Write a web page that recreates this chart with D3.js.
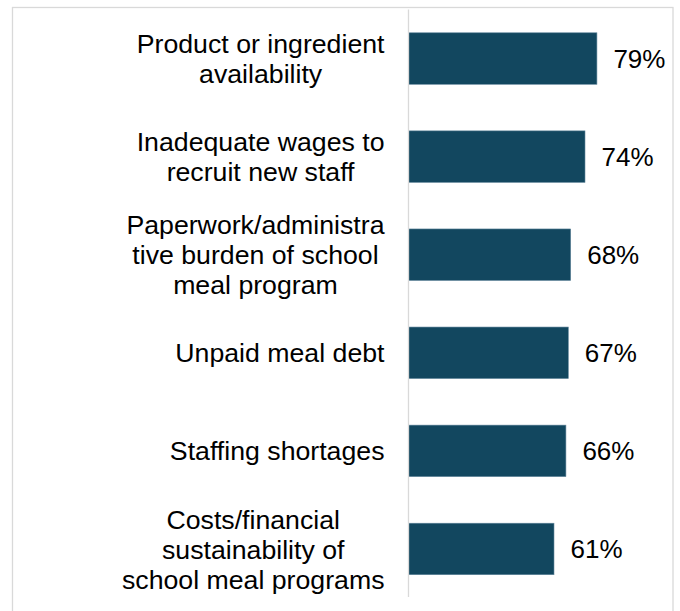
<!DOCTYPE html>
<html>
<head>
<meta charset="utf-8">
<script src="https://cdn.jsdelivr.net/npm/d3@7"></script>
<style>
  html, body { margin: 0; padding: 0; background: #ffffff; }
  svg { display: block; }
  text { font-family: "Liberation Sans", Arial, sans-serif; }
</style>
</head>
<body>
<svg id="chart" width="680" height="611"></svg>
<script>
// Data
const categories = [
  "Product or ingredient availability",
  "Inadequate wages to recruit new staff",
  "Paperwork/administrative burden of school meal program",
  "Unpaid meal debt",
  "Staffing shortages",
  "Costs/financial sustainability of school meal programs"
];
const categoryLines = [
  ["Product or ingredient", "availability"],
  ["Inadequate wages to", "recruit new staff"],
  ["Paperwork/administra", "tive burden of school", "meal program"],
  ["Unpaid meal debt"],
  ["Staffing shortages"],
  ["Costs/financial", "sustainability of", "school meal programs"]
];
const values = [79, 74, 68, 67, 66, 61];
const valueLabels = ["79%", "74%", "68%", "67%", "66%", "61%"];

const svg = d3.select("#chart");
const axisX = 408.5;

// Frame
svg.append("rect")
  .attr("x", 12.5).attr("y", 7.5)
  .attr("width", 660.5).attr("height", 620)
  .attr("fill", "none").attr("stroke", "#d9d9d9").attr("stroke-width", 1.3);

const y = d3.scaleBand()
  .domain(categories)
  .range([9.5, 598])
  .paddingInner(0.475)
  .paddingOuter(0.2375);

const x = d3.scaleLinear().domain([0, 100]).range([axisX, axisX + 238.5]);

// Bars
svg.append("g").selectAll("rect")
  .data(categories)
  .join("rect")
  .attr("x", x(0))
  .attr("y", d => y(d))
  .attr("width", (d, i) => x(values[i]) - x(0))
  .attr("height", y.bandwidth())
  .attr("fill", "#12475f")
  .attr("stroke", "#5f8499")
  .attr("stroke-width", 0.6);

// Axis line (category axis)
const yAxis = d3.axisLeft(y).tickSize(0).tickFormat("");
const ga = svg.append("g").attr("transform", `translate(${axisX},0)`).call(yAxis);
ga.select(".domain").attr("stroke", "#d9d9d9").attr("stroke-width", 1.3)
  .attr("d", `M0,9.5V597`);

// Value labels
svg.append("g").selectAll("text")
  .data(categories)
  .join("text")
  .attr("x", (d, i) => x(values[i]) + 16.5)
  .attr("y", d => y(d) + y.bandwidth() / 2)
  .attr("dy", "0.36em")
  .attr("font-size", 26)
  .attr("fill", "#000")
  .text((d, i) => valueLabels[i]);

// Category labels: lines centered within block, block right-aligned
const rightEdge = 384.5;
const lineH = 30;
categories.forEach((c, i) => {
  const lines = categoryLines[i];
  const g = svg.append("g");
  const texts = lines.map(l => g.append("text")
    .attr("font-size", 26.7).attr("fill", "#000")
    .attr("text-anchor", "middle").text(l));
  let maxW = 0;
  texts.forEach(t => { maxW = Math.max(maxW, t.node().getComputedTextLength()); });
  const cx = rightEdge - maxW / 2;
  const cy = y(c) + y.bandwidth() / 2;
  const n = lines.length;
  texts.forEach((t, k) => {
    t.attr("x", cx)
     .attr("y", cy + (k - (n - 1) / 2) * lineH)
     .attr("dy", "0.36em");
  });
});
</script>
</body>
</html>
